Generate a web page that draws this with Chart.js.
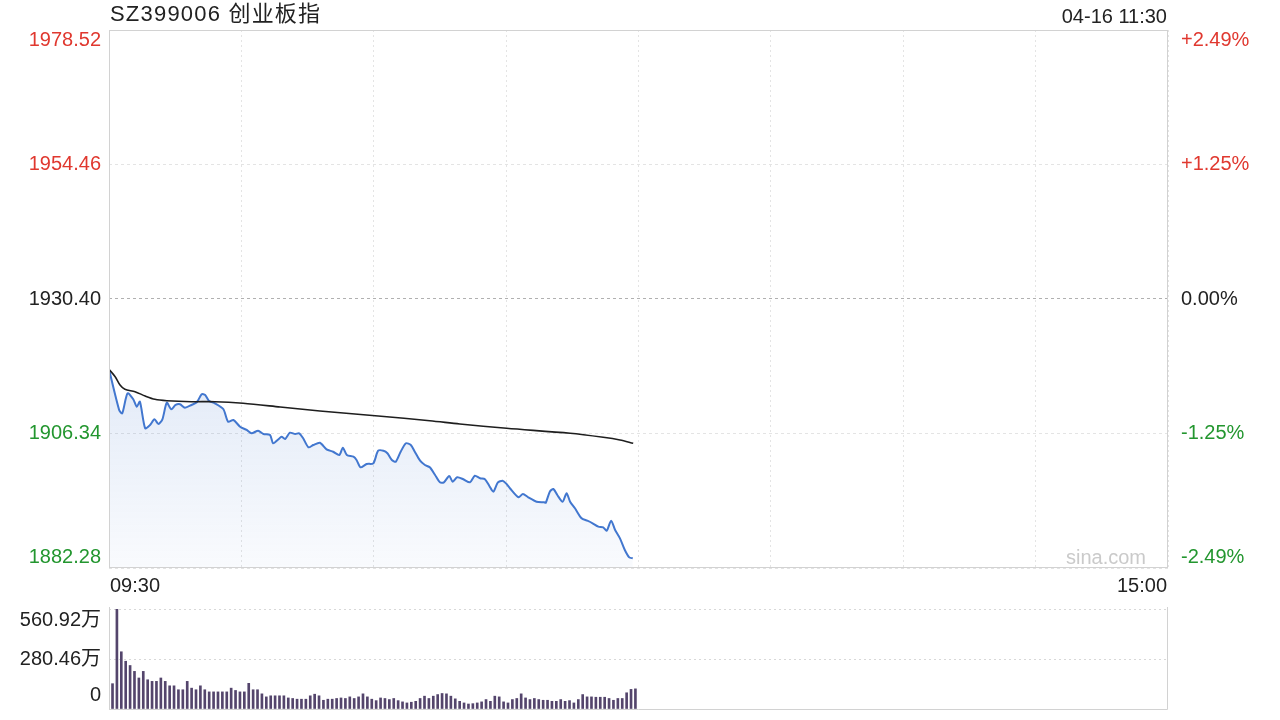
<!DOCTYPE html>
<html><head><meta charset="utf-8">
<script src="https://cdn.jsdelivr.net/npm/chart.js@4.4.1/dist/chart.umd.min.js"></script>
<style>
html,body{margin:0;padding:0;background:#fff;width:1280px;height:720px;overflow:hidden;}
#wrap{position:relative;width:1280px;height:720px;}
canvas{position:absolute;left:0;top:0;}
.t{position:absolute;font-family:"Liberation Sans",Arial,"Noto Sans CJK SC",sans-serif;font-size:20px;color:#222;white-space:nowrap;line-height:20px;}
</style></head><body>
<div id="wrap">
<canvas id="main" width="1280" height="720"></canvas>
<canvas id="vol" width="1280" height="720"></canvas>
<div class="t" style="left:110px;top:3px;font-size:22px;line-height:22px;letter-spacing:1.2px;">SZ399006 创业板指</div>
<div class="t" style="right:113px;top:6px;">04-16 11:30</div>
</div>
<script>
// ---- data ----
const priceMinutes = [0,2.3,3.0,4.2,5.5,6.3,7.0,8.2,9.3,10.3,11.2,12.1,13.1,14.1,15.1,16.1,17.2,18.7,19.9,21.0,21.8,22.7,24.0,25.9,27.0,28.2,29.7,31.2,32.3,33.8,35.0,36.5,37.2,38.4,39.1,39.9,41.0,42.2,43.1,44.0,45.2,46.3,47.8,49.3,50.8,52.2,53.0,53.9,55.4,56.1,57.0,58.4,59.9,61.0,62.2,63.1,64.1,65.0,66.1,67.3,68.4,69.3,70.5,71.6,72.7,73.9,75.0,75.9,77.1,77.9,78.9,80.3,81.8,82.9,84.1,85.2,86.2,87.1,88.1,89.2,90.1,90.9,92.8,93.8,95.0,96.9,98.6,99.0,99.9,100.7,101.6,102.8,103.7,104.5,105.6,107.1,108.4,109.6,110.9,112.0,112.8,113.8,114.7,115.8,116.9,117.9,118.7];
const priceValues = [1917.82,1910.54,1909.95,1913.53,1912.46,1911.13,1912.03,1907.27,1907.86,1908.88,1908.04,1908.88,1911.85,1910.67,1911.44,1911.56,1910.96,1911.44,1911.92,1913.35,1913.23,1912.15,1911.74,1910.72,1908.45,1908.75,1907.56,1906.97,1906.38,1906.84,1906.25,1906.07,1904.59,1905.30,1905.77,1905.36,1906.48,1906.25,1906.38,1905.48,1903.87,1904.28,1904.69,1903.51,1903.08,1902.49,1903.80,1902.49,1902.19,1901.60,1900.29,1900.88,1901.01,1903.26,1903.26,1902.80,1901.60,1901.30,1903.08,1904.59,1904.28,1903.08,1901.47,1900.70,1900.29,1898.92,1897.61,1897.61,1898.74,1897.72,1898.50,1898.15,1897.61,1898.79,1898.33,1898.15,1896.95,1895.93,1897.54,1897.90,1897.31,1896.50,1894.93,1895.52,1894.93,1894.14,1894.03,1893.97,1895.93,1896.41,1895.34,1894.14,1895.64,1894.14,1892.96,1891.17,1890.74,1890.28,1889.67,1889.56,1888.95,1890.74,1889.08,1887.59,1885.50,1884.19,1884.01];
const avgMinutes = [0,1.4,2.5,3.6,5.9,8.2,10.4,13.1,18.7,24.0,30.4,38.8,47.8,61.0,72.7,79.5,90.1,104.5,112.0,115.8,118.8];
const avgValues = [1917.82,1916.50,1915.02,1914.25,1913.82,1913.05,1912.46,1912.21,1912.03,1912.03,1911.74,1911.08,1910.36,1909.47,1908.63,1908.04,1907.27,1906.38,1905.66,1905.18,1904.59];
const volumeValues = [142,561,321,268,244,211,174,211,164,155,155,174,155,130,130,108,108,155,117,108,130,108,96,96,96,96,96,117,104,96,96,144,108,108,85,68,74,74,74,74,62,59,55,55,55,74,83,74,49,55,55,59,62,59,68,59,68,85,68,55,47,62,59,53,59,47,40,34,38,43,59,72,59,72,81,87,85,72,57,43,34,28,30,34,40,53,43,72,68,40,34,53,59,85,62,53,59,53,49,49,43,43,53,43,47,34,53,81,68,68,66,66,66,59,49,59,59,91,110,113];
const prevClose = 1930.40;
const priceTicks = [1978.52, 1954.46, 1930.40, 1906.34, 1882.28];
const percentLabels = ['+2.49%', '+1.25%', '0.00%', '-1.25%', '-2.49%'];
const timeTicks = [0, 30, 60, 90, 120, 150, 180, 210, 240];
const timeLabels = ['09:30', '15:00'];
const volumeTicks = [560.92, 280.46, 0];
const volumeLabels = ['560.92万', '280.46万', '0'];

const FONT = '20px "Liberation Sans", Arial, "Noto Sans CJK SC", sans-serif';

const mainDecor = {
  id: 'mainDecor',
  afterDraw(chart) {
    const {ctx, chartArea: a, scales: {x, y}} = chart;
    ctx.save();
    ctx.setLineDash([]);
    ctx.strokeStyle = '#d2d2d2';
    ctx.lineWidth = 1;
    ctx.strokeRect(a.left + 0.5, a.top + 0.5, a.right - a.left - 1, a.bottom - a.top - 1);
    ctx.font = FONT;
    ctx.textBaseline = 'middle';
    priceTicks.forEach((v, i) => {
      let py = y.getPixelForValue(v);
      if (i === 0) py += 10;
      if (i === priceTicks.length - 1) py -= 11;
      ctx.fillStyle = v > prevClose ? '#e0382f' : (v < prevClose ? '#23962f' : '#222');
      ctx.textAlign = 'right';
      ctx.fillText(v.toFixed(2), a.left - 8, py);
      ctx.textAlign = 'left';
      ctx.fillText(percentLabels[i], a.right + 13, py);
    });
    ctx.fillStyle = '#222';
    ctx.textAlign = 'left';
    ctx.fillText(timeLabels[0], x.getPixelForValue(timeTicks[0]) + 1, a.bottom + 18);
    ctx.textAlign = 'right';
    ctx.fillText(timeLabels[1], x.getPixelForValue(timeTicks[timeTicks.length - 1]) - 1, a.bottom + 18);
    ctx.fillStyle = '#cacaca';
    ctx.fillText('sina.com', a.right - 22, a.bottom - 10);
    ctx.restore();
  }
};

new Chart(document.getElementById('main'), {
  type: 'line',
  data: {
    datasets: [
      {
        data: avgMinutes.map((m, i) => ({x: m, y: avgValues[i]})),
        borderColor: '#1e1e1e', borderWidth: 1.6, pointRadius: 0, tension: 0.3, fill: false, order: 0
      },
      {
        data: priceMinutes.map((m, i) => ({x: m, y: priceValues[i]})),
        borderColor: '#4277cf', borderWidth: 2, pointRadius: 0, tension: 0.25, fill: 'start', order: 1,
        backgroundColor: (c) => {
          const {ctx, chartArea} = c.chart;
          if (!chartArea) return 'rgba(63,116,204,0.1)';
          const top = c.chart.scales.y.getPixelForValue(Math.max(...priceValues));
          const g = ctx.createLinearGradient(0, top, 0, chartArea.bottom);
          g.addColorStop(0, 'rgba(63,116,204,0.15)');
          g.addColorStop(1, 'rgba(63,116,204,0.03)');
          return g;
        }
      }
    ]
  },
  options: {
    responsive: false, animation: false,
    layout: {padding: {left: 109, right: 112, top: 30, bottom: 152}},
    plugins: {legend: {display: false}, tooltip: {enabled: false}},
    scales: {
      x: {
        type: 'linear', min: 0, max: 240,
        afterBuildTicks: (s) => { s.ticks = timeTicks.map(v => ({value: v})); },
        ticks: {display: false},
        grid: {color: '#e4e4e4', drawTicks: false, lineWidth: 1},
        border: {display: false, dash: [2, 3]}
      },
      y: {
        type: 'linear', min: 1882.28, max: 1978.52,
        afterBuildTicks: (s) => { s.ticks = priceTicks.map(v => ({value: v})); },
        ticks: {display: false},
        grid: {color: (c) => (c.tick && Math.abs(c.tick.value - prevClose) < 0.001) ? '#b0b0b0' : '#e4e4e4', drawTicks: false, lineWidth: 1},
        border: {display: false, dash: [3, 3]}
      }
    }
  },
  plugins: [mainDecor]
});

const volDecor = {
  id: 'volDecor',
  afterDraw(chart) {
    const {ctx, chartArea: a, scales: {y}} = chart;
    ctx.save();
    ctx.setLineDash([]);
    ctx.strokeStyle = '#d2d2d2';
    ctx.lineWidth = 1;
    ctx.beginPath();
    ctx.moveTo(a.left + 0.5, a.top - 2);
    ctx.lineTo(a.left + 0.5, a.bottom + 0.5);
    ctx.lineTo(a.right - 0.5, a.bottom + 0.5);
    ctx.lineTo(a.right - 0.5, a.top - 2);
    ctx.stroke();
    ctx.font = FONT;
    ctx.textBaseline = 'middle';
    ctx.textAlign = 'right';
    ctx.fillStyle = '#222';
    volumeTicks.forEach((v, i) => {
      let py = y.getPixelForValue(v);
      if (i === 0) py += 11;
      if (i === volumeTicks.length - 1) py -= 14;
      ctx.fillText(volumeLabels[i], a.left - 8, py);
    });
    ctx.restore();
  }
};

new Chart(document.getElementById('vol'), {
  type: 'bar',
  data: {
    datasets: [{
      data: volumeValues.map((v, i) => ({x: i + 0.8, y: v})),
      backgroundColor: '#54456c', barThickness: 2
    }]
  },
  options: {
    responsive: false, animation: false,
    layout: {padding: {left: 109, right: 112, top: 609, bottom: 11}},
    plugins: {legend: {display: false}, tooltip: {enabled: false}},
    scales: {
      x: {
        type: 'linear', min: 0, max: 241, offset: false,
        ticks: {display: false},
        grid: {display: false, drawTicks: false},
        border: {display: false}
      },
      y: {
        type: 'linear', min: 0, max: 560.92,
        afterBuildTicks: (s) => { s.ticks = volumeTicks.map(v => ({value: v})); },
        ticks: {display: false},
        grid: {color: '#d8d8d8', drawTicks: false, lineWidth: 1},
        border: {display: false, dash: [2, 3]}
      }
    }
  },
  plugins: [volDecor]
});
</script>
</body></html>
